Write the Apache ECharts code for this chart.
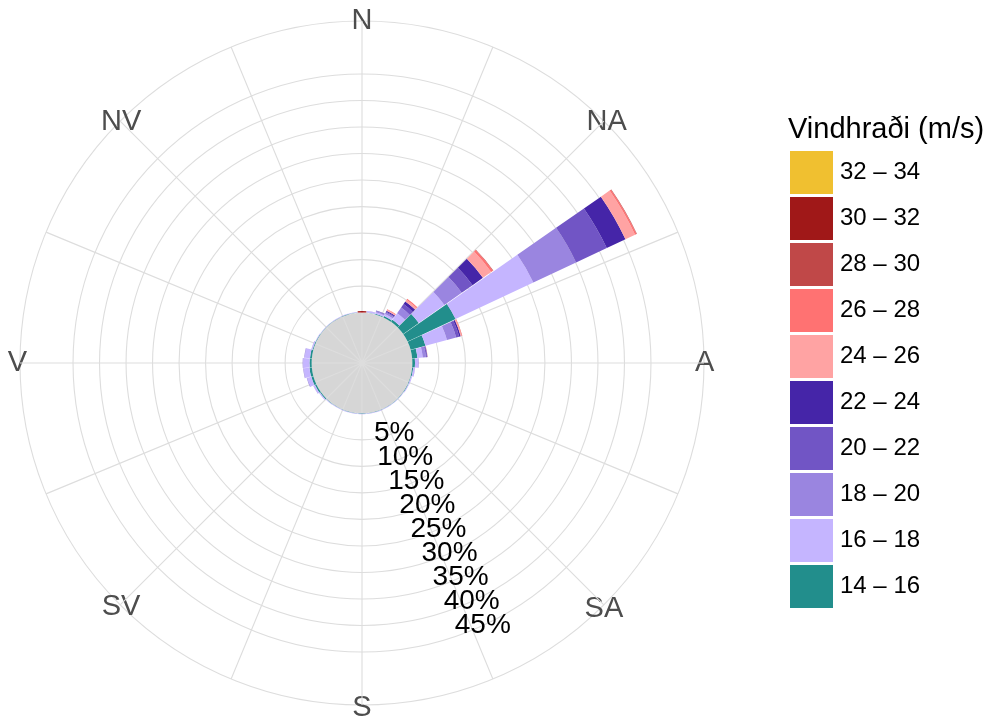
<!DOCTYPE html>
<html><head><meta charset="utf-8">
<script src="https://cdn.jsdelivr.net/npm/echarts@6/dist/echarts.min.js"></script>
<style>html,body{margin:0;padding:0;background:#fff}#c{width:990px;height:719px}</style>
</head><body><div id="c"></div>
<script>
// Wind directions (degrees, 10° sectors)
const directions = ['0','10','20','30','40','50','60','70','80','90','100','110','120','130','140','150','160','170',
                    '180','190','200','210','220','230','240','250','260','270','280','290','300','310','320','330','340','350'];
// Speed classes (legend)
const speedClasses = ['14 – 16','16 – 18','18 – 20','20 – 22','22 – 24','24 – 26','26 – 28','28 – 30','30 – 32','32 – 34'];
// Compass labels at 0,45,...,315
const compassLabels = ['N','NA','A','SA','S','SV','V','NV'];
// Radial tick labels (%)
const radiusTicks = [5,10,15,20,25,30,35,40,45];

// Frequency (%) per direction for each speed class
const s14_16 = [0,0.05,0.1,0.3,0.5,3.6,10.0,2.9,1.0,0.5,0.2,0.1,0.1,0.05,0.05,0.05,0.05,0.05,0.05,0.05,0.05,0.05,0.1,0.2,0.3,0.4,0.45,0.4,0.35,0.15,0.1,0.05,0.05,0.05,0.05,0.05];
const s16_18 = [0,0.25,0.3,0.4,1.5,5.9,16.2,4.2,1.0,0.6,0.3,0.2,0.15,0.1,0.1,0.1,0.1,0.1,0.1,0.1,0.1,0.1,0.1,0.2,0.3,0.8,1.1,1.2,1.0,0.2,0.1,0.1,0.1,0.1,0.1,0.1];
const s18_20 = [0,0.05,0.2,0.3,1.3,4.0,8.9,1.8,0.6,0.1,0.05,0,0,0,0,0,0,0,0,0,0,0,0,0,0.05,0.1,0.1,0.1,0.1,0.05,0,0,0,0,0,0];
const s20_22 = [0,0,0.1,0.2,0.8,2.5,6.4,0.6,0.2,0,0,0,0,0,0,0,0,0,0,0,0,0,0,0,0,0,0,0,0,0,0,0,0,0,0,0];
const s22_24 = [0,0,0.05,0.2,0.6,2.4,3.9,0.3,0.1,0,0,0,0,0,0,0,0,0,0,0,0,0,0,0,0,0,0,0,0,0,0,0,0,0,0,0];
const s24_26 = [0,0,0,0.2,0.4,1.9,2.0,0.2,0.05,0,0,0,0,0,0,0,0,0,0,0,0,0,0,0,0,0,0,0,0,0,0,0,0,0,0,0];
const s26_28 = [0,0,0,0.1,0.2,0.4,0.3,0.1,0,0,0,0,0,0,0,0,0,0,0,0,0,0,0,0,0,0,0,0,0,0,0,0,0,0,0,0];
const s28_30 = [0.1,0,0,0,0,0.1,0.1,0,0,0,0,0,0,0,0,0,0,0,0,0,0,0,0,0,0,0,0,0,0,0,0,0,0,0,0,0];
const s30_32 = [0.2,0,0,0,0,0,0,0,0,0,0,0,0,0,0,0,0,0,0,0,0,0,0,0,0,0,0,0,0,0,0,0,0,0,0,0];
const s32_34 = [0,0,0,0,0,0,0,0,0,0,0,0,0,0,0,0,0,0,0,0,0,0,0,0,0,0,0,0,0,0,0,0,0,0,0,0];

const classData = [s14_16,s16_18,s18_20,s20_22,s22_24,s24_26,s26_28,s28_30,s30_32,s32_34];
const classColors = ['#228e8c','#c5b5ff','#9a85e0','#7155c5','#4525a8','#ffa3a3','#ff7272','#c04848','#a01818','#f0c030'];

const CENTER = [362, 363], R = 342, RMIN = -9.5, RMAX = 55, STEP = 0.5;
const FONT = 'Liberation Sans';
const DIR_FS = 29;

const nTicks = Math.round((RMAX - RMIN) / STEP) + 1;
const splitColors = [];
for (let i = 0; i < nTicks; i++) {
  const v = RMIN + i * STEP;
  const on = radiusTicks.some(t => Math.abs(t - v) < 1e-6) || Math.abs(v - RMAX) < 1e-6;
  splitColors.push(on ? '#dddddd' : 'rgba(0,0,0,0)');
}
const discR = R * (0 - RMIN) / (RMAX - RMIN);

// per-label padding so each compass label is centred on the outer circle
const dirPads = [[0,0,16,0],[0,0,6,4],[0,0,0,21],[11,0,0,2],[18,0,0,0],[9,1,0,0],[0,23,0,0],[0,0,6,0]];
const dirRich = {};
dirPads.forEach((p, i) => { dirRich['k' + i] = {padding: p, fontSize: DIR_FS, color: '#4d4d4d', fontFamily: FONT}; });

const chart = echarts.init(document.getElementById('c'), null, {renderer: 'canvas'});
const barSeries = speedClasses.map((name, i) => ({
  type: 'bar', coordinateSystem: 'polar', polarIndex: 0, name: name,
  data: classData[i], stack: 'wind', barCategoryGap: '3%',
  itemStyle: {color: classColors[i]}, z: 3, silent: true
}));

chart.setOption({
  animation: false,
  backgroundColor: '#ffffff',
  title: {text: 'Vindhraði (m/s)', left: 788, top: 115, padding: 0,
    textStyle: {fontSize: 29, fontWeight: 'normal', color: '#000', fontFamily: FONT}},
  legend: {orient: 'vertical', left: 790, top: 151, padding: 0, itemWidth: 43, itemHeight: 43, itemGap: 3,
    icon: 'rect', selectedMode: false, data: speedClasses.slice().reverse(),
    textStyle: {fontSize: 24, color: '#000', fontFamily: FONT, padding: [0, 0, 0, 2]}},
  polar: [
    {center: CENTER, radius: R},
    {center: CENTER, radius: R},
    {center: CENTER, radius: R}
  ],
  angleAxis: [
    {polarIndex: 0, type: 'category', data: directions, startAngle: 95, clockwise: true, show: false},
    {polarIndex: 1, type: 'value', min: 0, max: 360, interval: 22.5, startAngle: 90, clockwise: true, z: 2,
      axisLine: {show: false}, axisTick: {show: false},
      splitLine: {show: true, lineStyle: {color: '#dddddd', width: 1.1}},
      axisLabel: {show: true, margin: -30, fontSize: DIR_FS, color: '#4d4d4d', fontFamily: FONT,
        rich: dirRich,
        formatter: function (v) {
          const k = v / 45;
          const r = Math.round(k);
          if (Math.abs(k - r) < 1e-6 && r < 8) return '{k' + r + '|' + compassLabels[r] + '}';
          return '';
        }}},
    {polarIndex: 2, type: 'value', min: 0, max: 360, startAngle: -65.3, clockwise: true, show: false}
  ],
  radiusAxis: [
    {polarIndex: 0, type: 'value', min: RMIN, max: RMAX, show: false},
    {polarIndex: 1, type: 'value', min: RMIN, max: RMAX, interval: STEP, z: 2,
      axisLine: {show: false}, axisTick: {show: false}, axisLabel: {show: false},
      splitLine: {show: true, lineStyle: {color: splitColors, width: 1.1}}},
    {polarIndex: 2, type: 'value', min: RMIN, max: RMAX, interval: STEP, z: 4,
      axisLine: {show: false}, axisTick: {show: false}, splitLine: {show: false},
      axisLabel: {show: true, interval: 0, margin: 0, align: 'center', verticalAlign: 'middle',
        fontSize: 28, color: '#000', fontFamily: FONT,
        formatter: function (v) {
          const t = radiusTicks.find(x => Math.abs(x - v) < 1e-6);
          return t === undefined ? '' : t + '%';
        }}}
  ],
  series: [
    {type: 'pie', center: CENTER, radius: [0, discR], silent: true, z: 1,
      label: {show: false}, labelLine: {show: false}, itemStyle: {color: '#d6d6d6'},
      data: [{value: 1, name: 'calm'}]}
  ].concat(barSeries)
});
</script></body></html>
